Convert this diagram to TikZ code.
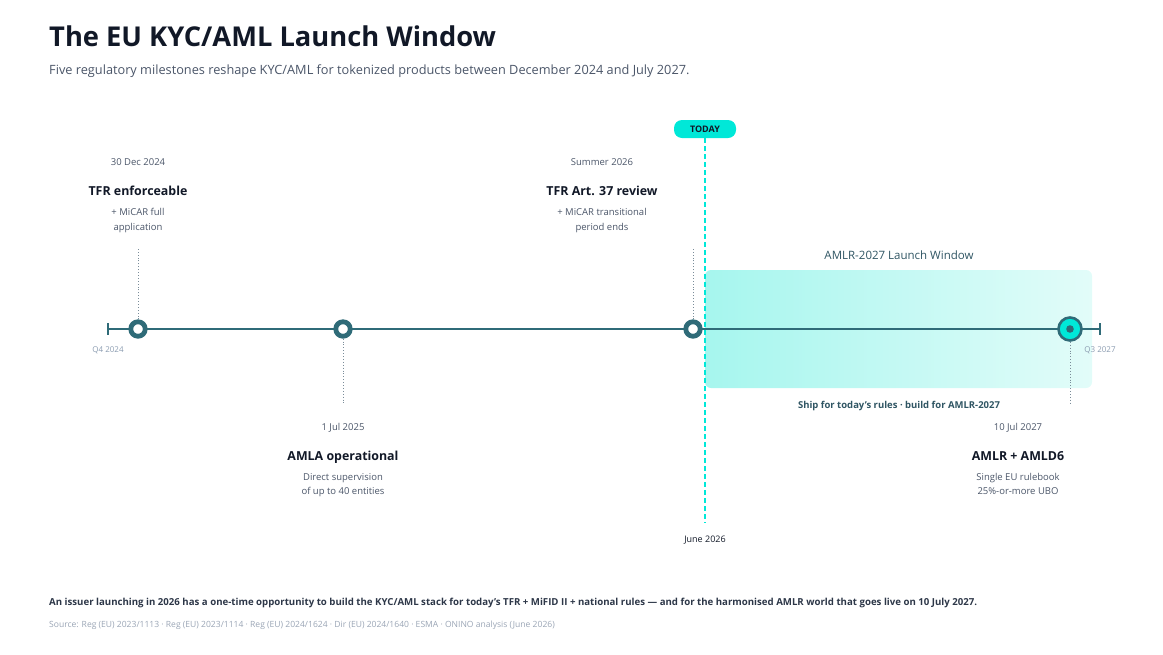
\documentclass[tikz,border=0pt]{standalone}
\usepackage{fontspec}
\setmainfont{Open Sans}
\usetikzlibrary{calc}
\definecolor{ink}{HTML}{111827}
\definecolor{sub}{HTML}{4A5568}
\definecolor{teal}{HTML}{2F6B78}
\definecolor{cyanx}{HTML}{00E8D8}
\definecolor{muted}{HTML}{8A9BB0}
\definecolor{winl}{HTML}{A6F6EE}
\definecolor{winr}{HTML}{E2FCF9}
\definecolor{wintext}{HTML}{2F5563}
\definecolor{foot}{HTML}{2D3748}
\definecolor{src}{HTML}{9AA5B5}
\definecolor{dotc}{HTML}{7A8C99}
\tikzset{
  date/.style={anchor=base, font=\fontsize{9.5}{11}\selectfont, text=sub, inner sep=0},
  mtitle/.style={anchor=base, font=\fontsize{12.4}{15}\selectfont\bfseries, text=ink, inner sep=0},
  mdesc/.style={anchor=base, font=\fontsize{9.5}{11}\selectfont, text=sub, inner sep=0},
  qlab/.style={anchor=base, font=\fontsize{8}{9}\selectfont, text=muted, inner sep=0},
  ring/.style={circle, draw=teal, line width=4.8pt, fill=white, minimum size=14.5pt, inner sep=0},
  leader/.style={draw=dotc, line width=0.9pt, dotted},
}
\begin{document}
\begin{tikzpicture}[x=1pt,y=-1pt]
\useasboundingbox (0,0) rectangle (1163,654);
% title
\node[anchor=base west, inner sep=0, font=\fontsize{27.3}{32}\selectfont\bfseries, text=ink] (title) at (49,46) {The EU KYC/AML Launch Window};
\node[anchor=base west, inner sep=0, font=\fontsize{12.75}{15}\selectfont, text=sub] (subtitle) at (49,74) {Five regulatory milestones reshape KYC/AML for tokenized products between December 2024 and July 2027.};
% window
\shade[left color=winl, right color=winr, rounded corners=6pt] (705,270) rectangle (1092,388);
\node[anchor=base, inner sep=0, font=\fontsize{11.5}{14}\selectfont, text=wintext] (wintitle) at (899,259) {AMLR-2027 Launch Window};
\node[anchor=base, inner sep=0, font=\fontsize{9.5}{11}\selectfont\bfseries, text=wintext] (winsub) at (899,408) {Ship for today's rules · build for AMLR-2027};
% timeline
\coordinate (tl) at (108,329);
\coordinate (tr) at (1100,329);
\draw[teal, line width=2.5pt] (tl) -- (tr);
\draw[teal, line width=2pt] (108,323) -- (108,335);
\draw[teal, line width=2pt] (1100,323) -- (1100,335);
\node[qlab] (q4) at (108,352) {Q4 2024};
\node[qlab] (q3) at (1100,352) {Q3 2027};
% today line
\node[fill=cyanx, rounded corners=8pt, minimum width=62pt, minimum height=18pt, inner sep=0, font=\fontsize{9}{11}\selectfont\bfseries, text=ink] (today) at (705,129) {TODAY};
\coordinate (todayend) at (705,523);
\draw[cyanx, line width=1.8pt, dash pattern=on 5pt off 3pt] (today.south) -- (todayend);
\node[anchor=base, inner sep=0, font=\fontsize{9}{11}\selectfont, text=ink] (june) at (705,542) {June 2026};
% milestones
\node[ring] (m1) at (138,329) {};
\node[ring] (m2) at (343,329) {};
\node[ring] (m3) at (693,329) {};
\node[circle, draw=teal, line width=2.6pt, fill=cyanx, minimum size=23pt, inner sep=0] (m4) at (1070,329) {};
\fill[teal] (m4.center) circle (3.8pt);
% leaders
\coordinate (l1) at (138,248);
\coordinate (l2) at (343,405);
\coordinate (l3) at (693,248);
\coordinate (l4) at (1070,405);
\draw[leader] (m1.north) -- (l1);
\draw[leader] (m2.south) -- (l2);
\draw[leader] (m3.north) -- (l3);
\draw[leader] (m4.south) -- (l4);
% labels m1
\node[date] (d1) at (138,165) {30 Dec 2024};
\node[mtitle] (t1) at (138,195) {TFR enforceable};
\node[mdesc] (a1) at (138,215) {+ MiCAR full};
\node[mdesc] (b1) at (138,230) {application};
% m3
\node[date] (d3) at (602,165) {Summer 2026};
\node[mtitle] (t3) at (602,195) {TFR Art. 37 review};
\node[mdesc] (a3) at (602,215) {+ MiCAR transitional};
\node[mdesc] (b3) at (602,230) {period ends};
% m2
\node[date] (d2) at (343,430) {1 Jul 2025};
\node[mtitle] (t2) at (343,460) {AMLA operational};
\node[mdesc] (a2) at (343,480) {Direct supervision};
\node[mdesc] (b2) at (343,494) {of up to 40 entities};
% m4
\node[date] (d4) at (1018,430) {10 Jul 2027};
\node[mtitle] (t4) at (1018,460) {AMLR + AMLD6};
\node[mdesc] (a4) at (1018,480) {Single EU rulebook};
\node[mdesc] (b4) at (1018,494) {25\%-or-more UBO};
% footer
\node[anchor=base west, inner sep=0, font=\fontsize{9.65}{11}\selectfont\bfseries, text=foot] (note) at (49,605) {An issuer launching in 2026 has a one-time opportunity to build the KYC/AML stack for today's TFR + MiFID II + national rules — and for the harmonised AMLR world that goes live on 10 July 2027.};
\node[anchor=base west, inner sep=0, font=\fontsize{8.55}{10}\selectfont, text=src] (source) at (49,627) {Source: Reg (EU) 2023/1113 · Reg (EU) 2023/1114 · Reg (EU) 2024/1624 · Dir (EU) 2024/1640 · ESMA · ONINO analysis (June 2026)};
\end{tikzpicture}
\end{document}
